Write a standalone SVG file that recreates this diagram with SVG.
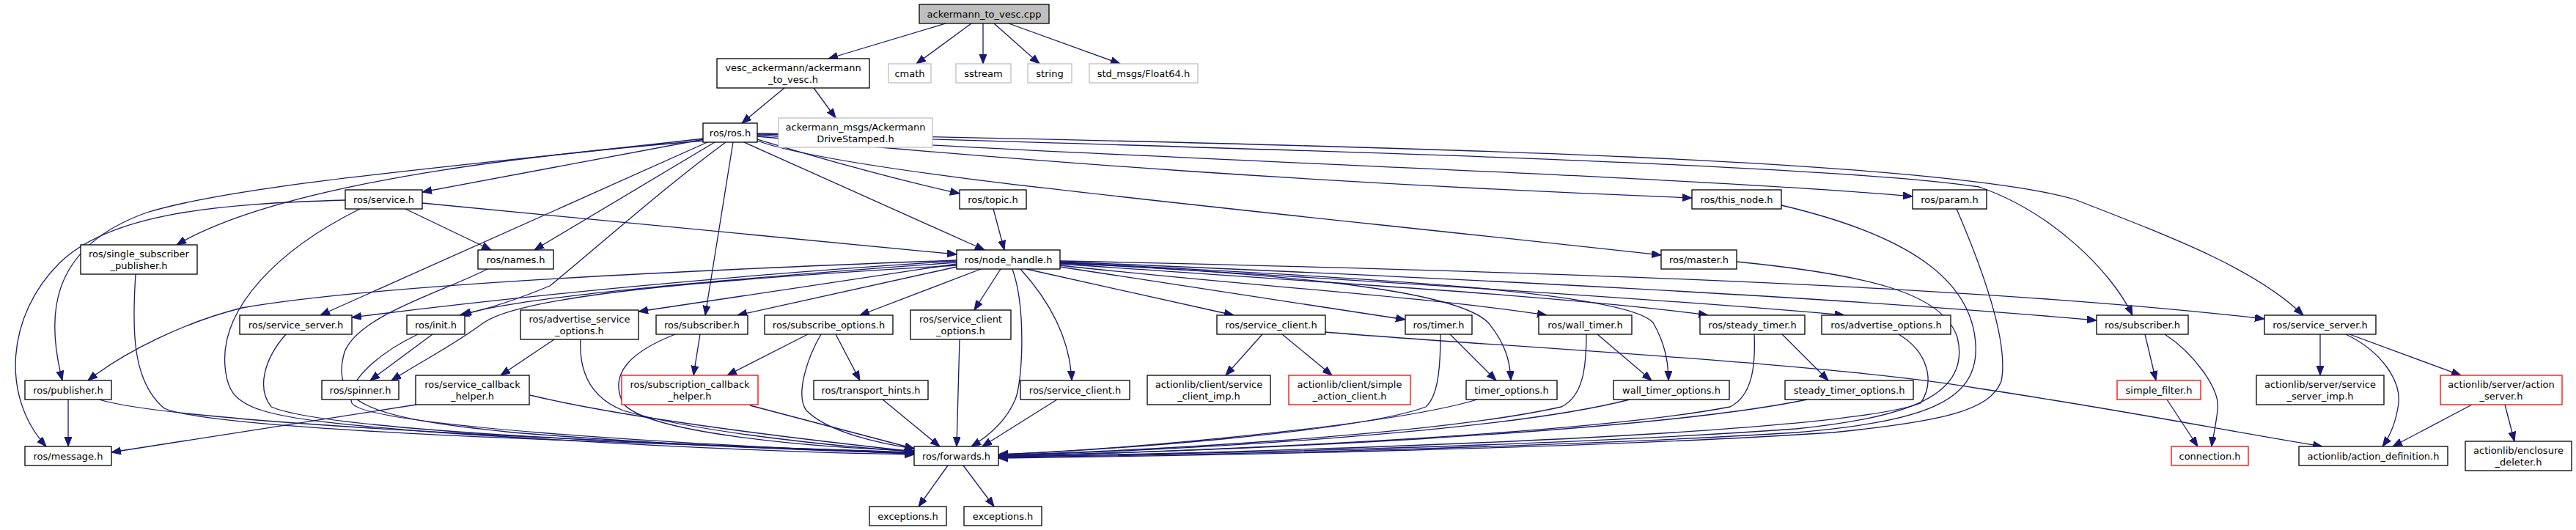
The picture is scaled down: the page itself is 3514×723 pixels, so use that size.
<svg xmlns="http://www.w3.org/2000/svg" width="3514" height="723" viewBox="0 0 3514 723">
<defs>
<marker id="a" markerWidth="14" markerHeight="11" refX="13" refY="5" orient="auto" markerUnits="userSpaceOnUse"><path d="M0,0 L13,5 L0,10 z" fill="#191970" stroke="#191970" stroke-width="1"/></marker>
<style>
rect{fill:#fff;stroke:#000;stroke-width:1.3}
.g rect{stroke:#bfbfbf}
.r rect{stroke:#ff0000}
.c rect{fill:#bfbfbf}
text{font-family:"DejaVu Sans",sans-serif;font-size:13px;text-anchor:middle;fill:#000}
#edges path{fill:none;stroke:#191970;stroke-width:1.3;marker-end:url(#a)}
</style>
</defs>
<rect x="0" y="0" width="3514" height="723" style="stroke:none;fill:#fff"/>
<g id="edges">
<path d="M1290,32 L1130,80"/>
<path d="M1325,32 L1250,87"/>
<path d="M1341,32 L1341,87"/>
<path d="M1356,32 L1418,87"/>
<path d="M1376,32 L1528,87"/>
<path d="M1070,120 L1012,168"/>
<path d="M1110,120 L1140,161"/>
<path d="M960,190 L576,262"/>
<path d="M960,192 C800,205 400,240 241,334"/>
<path d="M960,189 C650,225 330,250 200,290 C60,340 65,440 85,519"/>
<path d="M975,194 L729,341"/>
<path d="M965,194 L437,430"/>
<path d="M990,194 C900,260 800,350 750,390 C690,415 650,425 627,430"/>
<path d="M1000,194 L962,430"/>
<path d="M1015,194 L1343,341"/>
<path d="M1033,190 C1100,210 1200,240 1309,264"/>
<path d="M1033,186 C1400,220 1800,250 2308,270"/>
<path d="M1033,184 C1500,215 2300,240 2609,268"/>
<path d="M1033,192 C1150,235 1600,275 2266,348"/>
<path d="M1033,183 C1800,205 2500,225 2700,255 C2800,290 2880,370 2909,430"/>
<path d="M1033,182 C2000,200 2650,220 2830,272 C2980,330 3080,370 3142,430"/>
<path d="M471,273 C300,278 150,290 80,360 C10,430 0,540 63,609"/>
<path d="M553,285 L670,341"/>
<path d="M576,277 L1305,347"/>
<path d="M491,285 C380,340 300,420 307,500 C312,560 340,570 600,590 C900,610 1100,618 1247,620"/>
<path d="M1355,285 L1370,341"/>
<path d="M185,374 C180,450 180,520 224,557 C300,590 900,605 1247,617"/>
<path d="M93,545 L93,609"/>
<path d="M135,545 C250,580 900,605 1247,618"/>
<path d="M568,552 L152,617"/>
<path d="M723,539 C850,570 1100,600 1247,616"/>
<path d="M665,367 C600,400 490,430 470,480 C450,550 500,570 700,590 C950,610 1150,616 1247,618"/>
<path d="M590,456 L505,519"/>
<path d="M1305,362 C1000,380 720,400 660,440 C620,470 580,490 534,519"/>
<path d="M570,456 C520,480 470,520 480,550 C500,580 900,605 1247,619"/>
<path d="M390,456 C360,490 350,530 370,555 C450,590 950,607 1247,619"/>
<path d="M756,463 L683,512"/>
<path d="M792,463 C790,500 800,540 850,560 C950,590 1150,610 1247,616"/>
<path d="M955,456 L946,512"/>
<path d="M921,456 C860,480 830,510 850,550 C880,590 1100,610 1247,615"/>
<path d="M1102,456 L992,512"/>
<path d="M1140,456 L1173,519"/>
<path d="M1120,456 C1100,490 1085,540 1100,560 C1130,590 1200,605 1247,612"/>
<path d="M1023,553 L1247,612"/>
<path d="M1204,545 L1282,609"/>
<path d="M1309,463 L1305,609"/>
<path d="M1381,367 C1400,420 1395,520 1385,545 C1370,580 1340,600 1325,609"/>
<path d="M1392,367 C1440,420 1460,470 1462,519"/>
<path d="M1442,545 L1340,609"/>
<path d="M1365,367 L1329,423"/>
<path d="M1338,367 L1173,430"/>
<path d="M1305,364 L1006,430"/>
<path d="M1305,360 L871,425"/>
<path d="M1305,358 C1000,380 700,405 630,430"/>
<path d="M1305,356 C1000,375 700,405 480,433"/>
<path d="M1305,355 C900,370 500,390 330,420 C250,440 170,480 120,519"/>
<path d="M1400,367 L1683,430"/>
<path d="M1446,364 L1917,436"/>
<path d="M1446,362 C1700,390 1950,405 2110,430"/>
<path d="M1446,360 C1800,385 2150,405 2330,430"/>
<path d="M1446,358 C1900,385 2300,410 2516,430"/>
<path d="M1446,357 C2000,380 2500,405 2860,437"/>
<path d="M1446,356 C2100,370 2700,390 3089,435"/>
<path d="M1446,359 C1800,375 1990,400 2030,440 C2055,470 2060,495 2061,519"/>
<path d="M1446,358 C1900,380 2220,400 2255,440 C2272,470 2276,495 2276,519"/>
<path d="M1722,456 L1672,512"/>
<path d="M1749,456 L1817,512"/>
<path d="M1808,453 C2000,470 2500,495 2700,530 C2900,560 3050,590 3168,609"/>
<path d="M1978,456 L2041,519"/>
<path d="M1965,456 C1965,500 1962,540 1945,555 C1850,590 1500,615 1362,620"/>
<path d="M2015,545 C1900,580 1550,612 1362,620"/>
<path d="M2179,456 L2253,519"/>
<path d="M2164,456 C2164,500 2160,540 2130,555 C1950,595 1550,615 1362,621"/>
<path d="M2223,545 C2050,590 1600,615 1362,621"/>
<path d="M2431,456 L2494,519"/>
<path d="M2393,456 C2395,500 2390,540 2360,555 C2150,595 1600,617 1362,622"/>
<path d="M2465,545 C2250,590 1650,617 1362,622"/>
<path d="M2590,456 C2630,480 2640,520 2620,550 C2500,595 1700,618 1362,623"/>
<path d="M2369,357 C2550,375 2650,400 2670,460 C2690,540 2600,570 2450,585 C2100,610 1600,620 1362,623"/>
<path d="M2430,280 C2600,320 2690,380 2695,470 C2700,550 2620,575 2450,590 C2100,612 1600,621 1362,624"/>
<path d="M2669,285 C2710,380 2740,470 2730,520 C2715,560 2650,575 2500,590 C2150,613 1600,622 1362,625"/>
<path d="M2926,456 L2941,519"/>
<path d="M2953,456 C2990,480 3030,530 3025,560 C3022,585 3018,600 3017,609"/>
<path d="M2956,545 L2998,609"/>
<path d="M3165,456 L3165,512"/>
<path d="M3200,456 C3250,480 3275,520 3272,550 C3268,580 3258,598 3250,609"/>
<path d="M3205,456 L3357,512"/>
<path d="M3372,552 L3264,609"/>
<path d="M3417,552 L3430,602"/>
<path d="M1293,635 L1253,691"/>
<path d="M1314,635 L1356,691"/>
</g>
<g id="n0" class="c"><rect x="1254" y="6" width="177" height="26"/><text x="1342.5" y="23.5">ackermann_to_vesc.cpp</text></g>
<g id="n1"><rect x="978" y="80" width="208" height="40"/><text x="1082" y="97">vesc_ackermann/ackermann</text><text x="1082" y="112.5">_to_vesc.h</text></g>
<g id="n2" class="g"><rect x="1212" y="87" width="58" height="26"/><text x="1241" y="104.5">cmath</text></g>
<g id="n3" class="g"><rect x="1304" y="87" width="75" height="26"/><text x="1341.5" y="104.5">sstream</text></g>
<g id="n4" class="g"><rect x="1402" y="87" width="60" height="26"/><text x="1432" y="104.5">string</text></g>
<g id="n5" class="g"><rect x="1486" y="87" width="148" height="26"/><text x="1560" y="104.5">std_msgs/Float64.h</text></g>
<g id="n6"><rect x="959" y="168" width="74" height="26"/><text x="996" y="185.5">ros/ros.h</text></g>
<g id="n7" class="g"><rect x="1062" y="161" width="210" height="40"/><text x="1167" y="178">ackermann_msgs/Ackermann</text><text x="1167" y="193.5">DriveStamped.h</text></g>
<g id="n8"><rect x="471" y="259" width="105" height="26"/><text x="523.5" y="276.5">ros/service.h</text></g>
<g id="n9"><rect x="1309" y="259" width="91" height="26"/><text x="1354.5" y="276.5">ros/topic.h</text></g>
<g id="n10"><rect x="2308" y="259" width="122" height="26"/><text x="2369" y="276.5">ros/this_node.h</text></g>
<g id="n11"><rect x="2609" y="259" width="101" height="26"/><text x="2659.5" y="276.5">ros/param.h</text></g>
<g id="n12"><rect x="110" y="334" width="159" height="40"/><text x="189.5" y="351">ros/single_subscriber</text><text x="189.5" y="366.5">_publisher.h</text></g>
<g id="n13"><rect x="652" y="341" width="103" height="26"/><text x="703.5" y="358.5">ros/names.h</text></g>
<g id="n14"><rect x="1305" y="341" width="141" height="26"/><text x="1375.5" y="358.5">ros/node_handle.h</text></g>
<g id="n15"><rect x="2266" y="341" width="103" height="26"/><text x="2317.5" y="358.5">ros/master.h</text></g>
<g id="n16"><rect x="327" y="430" width="153" height="26"/><text x="403.5" y="447.5">ros/service_server.h</text></g>
<g id="n17"><rect x="555" y="430" width="79" height="26"/><text x="594.5" y="447.5">ros/init.h</text></g>
<g id="n18"><rect x="710" y="423" width="161" height="40"/><text x="790.5" y="440">ros/advertise_service</text><text x="790.5" y="455.5">_options.h</text></g>
<g id="n19"><rect x="895" y="430" width="125" height="26"/><text x="957.5" y="447.5">ros/subscriber.h</text></g>
<g id="n20"><rect x="1043" y="430" width="175" height="26"/><text x="1130.5" y="447.5">ros/subscribe_options.h</text></g>
<g id="n21"><rect x="1242" y="423" width="137" height="40"/><text x="1310.5" y="440">ros/service_client</text><text x="1310.5" y="455.5">_options.h</text></g>
<g id="n22"><rect x="1660" y="430" width="148" height="26"/><text x="1734" y="447.5">ros/service_client.h</text></g>
<g id="n23"><rect x="1917" y="430" width="91" height="26"/><text x="1962.5" y="447.5">ros/timer.h</text></g>
<g id="n24"><rect x="2099" y="430" width="127" height="26"/><text x="2162.5" y="447.5">ros/wall_timer.h</text></g>
<g id="n25"><rect x="2319" y="430" width="143" height="26"/><text x="2390.5" y="447.5">ros/steady_timer.h</text></g>
<g id="n26"><rect x="2485" y="430" width="176" height="26"/><text x="2573" y="447.5">ros/advertise_options.h</text></g>
<g id="n27"><rect x="2860" y="430" width="125" height="26"/><text x="2922.5" y="447.5">ros/subscriber.h</text></g>
<g id="n28"><rect x="3089" y="430" width="152" height="26"/><text x="3165" y="447.5">ros/service_server.h</text></g>
<g id="n29"><rect x="34" y="519" width="118" height="26"/><text x="93" y="536.5">ros/publisher.h</text></g>
<g id="n30"><rect x="439" y="519" width="105" height="26"/><text x="491.5" y="536.5">ros/spinner.h</text></g>
<g id="n31"><rect x="567" y="512" width="155" height="40"/><text x="644.5" y="529">ros/service_callback</text><text x="644.5" y="544.5">_helper.h</text></g>
<g id="n32" class="r"><rect x="848" y="512" width="186" height="40"/><text x="941" y="529">ros/subscription_callback</text><text x="941" y="544.5">_helper.h</text></g>
<g id="n33"><rect x="1110" y="519" width="156" height="26"/><text x="1188" y="536.5">ros/transport_hints.h</text></g>
<g id="n34"><rect x="1392" y="519" width="149" height="26"/><text x="1466.5" y="536.5">ros/service_client.h</text></g>
<g id="n35"><rect x="1565" y="512" width="168" height="40"/><text x="1649" y="529">actionlib/client/service</text><text x="1649" y="544.5">_client_imp.h</text></g>
<g id="n36" class="r"><rect x="1758" y="512" width="166" height="40"/><text x="1841" y="529">actionlib/client/simple</text><text x="1841" y="544.5">_action_client.h</text></g>
<g id="n37"><rect x="2000" y="519" width="124" height="26"/><text x="2062" y="536.5">timer_options.h</text></g>
<g id="n38"><rect x="2201" y="519" width="158" height="26"/><text x="2280" y="536.5">wall_timer_options.h</text></g>
<g id="n39"><rect x="2435" y="519" width="175" height="26"/><text x="2522.5" y="536.5">steady_timer_options.h</text></g>
<g id="n40" class="r"><rect x="2888" y="519" width="114" height="26"/><text x="2945" y="536.5">simple_filter.h</text></g>
<g id="n41"><rect x="3078" y="512" width="174" height="40"/><text x="3165" y="529">actionlib/server/service</text><text x="3165" y="544.5">_server_imp.h</text></g>
<g id="n42" class="r"><rect x="3329" y="512" width="166" height="40"/><text x="3412" y="529">actionlib/server/action</text><text x="3412" y="544.5">_server.h</text></g>
<g id="n43"><rect x="34" y="609" width="118" height="26"/><text x="93" y="626.5">ros/message.h</text></g>
<g id="n44"><rect x="1247" y="609" width="115" height="26"/><text x="1304.5" y="626.5">ros/forwards.h</text></g>
<g id="n45" class="r"><rect x="2962" y="609" width="105" height="26"/><text x="3014.5" y="626.5">connection.h</text></g>
<g id="n46"><rect x="3136" y="609" width="203" height="26"/><text x="3237.5" y="626.5">actionlib/action_definition.h</text></g>
<g id="n47"><rect x="3363" y="602" width="145" height="40"/><text x="3435.5" y="619">actionlib/enclosure</text><text x="3435.5" y="634.5">_deleter.h</text></g>
<g id="n48"><rect x="1186" y="691" width="105" height="26"/><text x="1238.5" y="708.5">exceptions.h</text></g>
<g id="n49"><rect x="1315" y="691" width="106" height="26"/><text x="1368" y="708.5">exceptions.h</text></g>
</svg>
